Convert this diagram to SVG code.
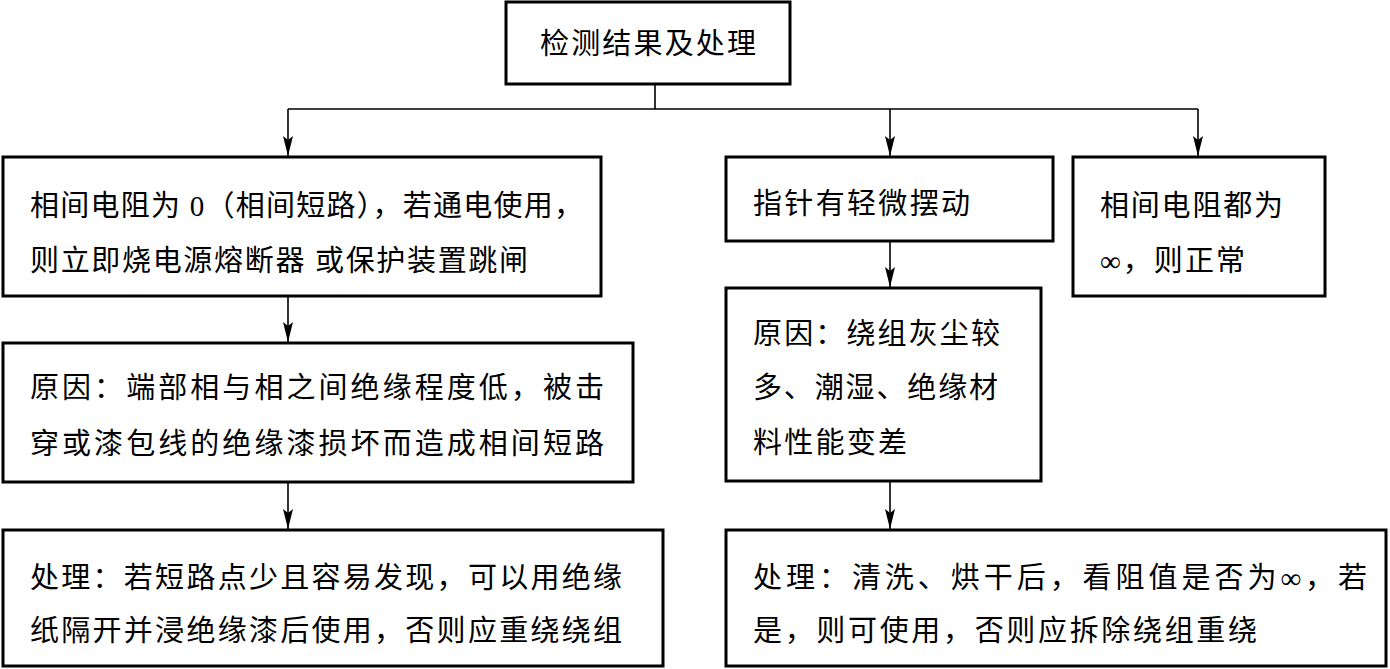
<svg xmlns="http://www.w3.org/2000/svg" width="1390" height="669" viewBox="0 0 1390 669">
<defs>
<style>
.box{fill:#fff;stroke:#000;stroke-width:3}
.t{font-family:"Liberation Serif","Noto Sans CJK SC",serif;font-size:29px;fill:#000}
.c{fill:none;stroke:#000;stroke-width:1.6}
</style>
<marker id="ah" viewBox="0 0 20 10" refX="20" refY="5" markerWidth="20" markerHeight="10" markerUnits="userSpaceOnUse" orient="auto">
<path d="M0,0 L20,5 L0,10 L4,5 Z" fill="#000"/>
</marker>
</defs>
<rect width="1390" height="669" fill="#fff"/>
<g id="connectors">
<path class="c" d="M655,84 V109 M288,109 H1198"/>
<path class="c" d="M288,109 V156" marker-end="url(#ah)"/>
<path class="c" d="M890,109 V156" marker-end="url(#ah)"/>
<path class="c" d="M1198,109 V156" marker-end="url(#ah)"/>
<path class="c" d="M288,296 V342" marker-end="url(#ah)"/>
<path class="c" d="M288,482 V529" marker-end="url(#ah)"/>
<path class="c" d="M890,241 V287" marker-end="url(#ah)"/>
<path class="c" d="M890,481 V529" marker-end="url(#ah)"/>
</g>
<g id="n-top">
<rect class="box" x="506" y="2" width="284" height="82"/>
<text class="t" x="540" y="54" textLength="216" lengthAdjust="spacing">检测结果及处理</text>
</g>
<g id="n-short">
<rect class="box" x="3" y="157" width="598" height="139"/>
<text class="t" x="30" y="216" textLength="553" lengthAdjust="spacing">相间电阻为 0（相间短路），若通电使用，</text>
<text class="t" x="30" y="271" textLength="498" lengthAdjust="spacing">则立即烧电源熔断器 或保护装置跳闸</text>
</g>
<g id="n-swing">
<rect class="box" x="726" y="157" width="327" height="84"/>
<text class="t" x="753" y="214" textLength="217" lengthAdjust="spacing">指针有轻微摆动</text>
</g>
<g id="n-normal">
<rect class="box" x="1073" y="157" width="252" height="139"/>
<text class="t" x="1100" y="216" textLength="183" lengthAdjust="spacing">相间电阻都为</text>
<text class="t" x="1100" y="271" textLength="145" lengthAdjust="spacing">∞，则正常</text>
</g>
<g id="n-cause1">
<rect class="box" x="3" y="343" width="630" height="139"/>
<text class="t" x="30" y="398" textLength="574" lengthAdjust="spacing">原因：端部相与相之间绝缘程度低，被击</text>
<text class="t" x="30" y="454" textLength="574" lengthAdjust="spacing">穿或漆包线的绝缘漆损坏而造成相间短路</text>
</g>
<g id="n-fix1">
<rect class="box" x="3" y="530" width="660" height="136"/>
<text class="t" x="30" y="588" textLength="592" lengthAdjust="spacing">处理：若短路点少且容易发现，可以用绝缘</text>
<text class="t" x="30" y="641" textLength="592" lengthAdjust="spacing">纸隔开并浸绝缘漆后使用，否则应重绕绕组</text>
</g>
<g id="n-cause2">
<rect class="box" x="726" y="288" width="315" height="193"/>
<text class="t" x="753" y="344" textLength="247" lengthAdjust="spacing">原因：绕组灰尘较</text>
<text class="t" x="753" y="398" textLength="245" lengthAdjust="spacing">多、潮湿、绝缘材</text>
<text class="t" x="753" y="453" textLength="154" lengthAdjust="spacing">料性能变差</text>
</g>
<g id="n-fix2">
<rect class="box" x="726" y="530" width="660" height="136"/>
<text class="t" x="753" y="588" textLength="614" lengthAdjust="spacing">处理：清洗、烘干后，看阻值是否为∞，若</text>
<text class="t" x="753" y="641" textLength="504" lengthAdjust="spacing">是，则可使用，否则应拆除绕组重绕</text>
</g>
</svg>
